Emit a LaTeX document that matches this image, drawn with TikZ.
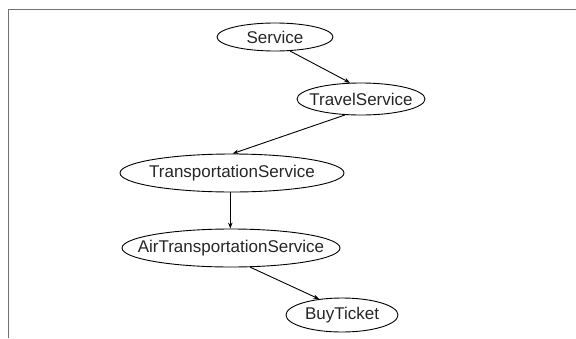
\documentclass[tikz,border=0pt]{standalone}
\usepackage{fontspec}
\setmainfont{Liberation Sans}
\usetikzlibrary{shapes.geometric,arrows.meta}
\newcommand{\zw}[1]{\makebox[0pt]{#1}}
\begin{document}
\begin{tikzpicture}[x=1pt,y=-1pt,
  cls/.style={ellipse,draw=black,line width=0.9pt,inner sep=0pt,
    font=\fontsize{17}{20}\selectfont,text=black!85},
  edge/.style={draw=black,line width=0.9pt,-{Stealth[length=6pt,width=4.5pt]}},
  frame/.style={draw=black!55,line width=1.6pt}]
\useasboundingbox (0,0) rectangle (576,338);
\coordinate (fl) at (8.3,338);
\coordinate (ftl) at (8.3,9.6);
\coordinate (fr) at (576,9.6);
\draw[frame] (fl) -- (ftl) -- (fr);
\node[cls,minimum width=116pt,minimum height=28pt] (s) at (275,37) {\zw{Service}};
\node[cls,minimum width=128pt,minimum height=32pt] (t) at (361,99) {\zw{TravelService}};
\node[cls,minimum width=224pt,minimum height=38pt] (tr) at (232,173) {\zw{TransportationService}};
\node[cls,minimum width=218pt,minimum height=38pt] (a) at (231,248) {\zw{AirTransportationService}};
\node[cls,minimum width=112pt,minimum height=34pt] (b) at (342,315) {\zw{BuyTicket}};
\draw[edge] (s.-43) -- (t.124);
\draw[edge] (t.-135) -- (tr.88);
\draw[edge] (tr.-95) -- (tr.-95 |- a.north);
\draw[edge] (a.-45) -- (b.145);
\end{tikzpicture}
\end{document}
